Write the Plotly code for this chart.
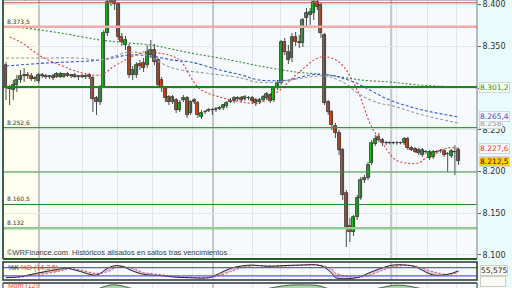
import plotly.graph_objects as go

# ---------------- data (index points) ----------------
idx = list(range(126))
opn = [8327.5, 8300.0, 8297.6, 8303.6, 8309.6, 8314.4, 8315.6, 8314.4, 8310.8, 8308.4,
       8315.6, 8314.4, 8313.2, 8314.4, 8313.2, 8316.8, 8313.2, 8316.8, 8314.4, 8315.6,
       8313.2, 8314.4, 8313.2, 8315.6, 8312.0, 8288.0, 8283.2, 8301.2, 8365.9, 8403.0,
       8407.8, 8400.6, 8361.1, 8351.5, 8349.1, 8315.6, 8315.6, 8328.7, 8329.9, 8327.5,
       8339.5, 8345.5, 8333.5, 8309.6, 8300.0, 8289.2, 8283.2, 8285.6, 8273.6, 8285.6,
       8288.0, 8270.1, 8285.6, 8282.0, 8265.3, 8271.3, 8273.6, 8273.6, 8273.6, 8274.8,
       8276.0, 8278.4, 8283.0, 8284.4, 8288.0, 8288.0, 8286.8, 8288.0, 8288.0, 8285.6,
       8283.2, 8285.6, 8288.0, 8291.6, 8285.6, 8300.0, 8306.0, 8355.1, 8343.1, 8335.9,
       8361.1, 8355.1, 8353.9, 8383.8, 8387.4, 8389.8, 8403.0, 8399.4, 8363.5, 8283.2,
       8271.3, 8254.5, 8246.1, 8225.8, 8174.2, 8134.7, 8127.5, 8145.5, 8168.3, 8189.8,
       8192.2, 8210.2, 8232.9, 8241.3, 8237.7, 8234.1, 8234.5, 8234.1, 8233.8, 8234.3,
       8234.1, 8238.9, 8228.2, 8227.0, 8225.8, 8219.8, 8223.4, 8216.2, 8217.4, 8223.4,
       8224.6, 8224.6, 8221.0, 8218.6, 8223.4, 8225.8]
hig = [8331.1, 8303.6, 8309.6, 8315.6, 8321.6, 8324.0, 8319.2, 8318.0, 8314.4, 8318.0,
       8318.0, 8316.8, 8315.6, 8316.8, 8319.2, 8319.2, 8318.0, 8319.2, 8316.8, 8318.0,
       8315.6, 8316.8, 8316.8, 8318.0, 8314.4, 8290.4, 8303.6, 8369.5, 8411.4, 8412.6,
       8412.6, 8403.0, 8365.9, 8362.3, 8352.7, 8326.3, 8331.1, 8333.5, 8335.9, 8351.5,
       8357.5, 8352.7, 8335.9, 8313.2, 8302.4, 8291.6, 8291.6, 8288.0, 8285.6, 8291.6,
       8290.4, 8285.6, 8288.0, 8284.4, 8273.6, 8273.6, 8276.0, 8276.0, 8277.2, 8278.4,
       8280.8, 8284.4, 8288.0, 8290.4, 8290.4, 8290.4, 8291.6, 8290.4, 8290.4, 8288.0,
       8288.0, 8291.6, 8295.2, 8294.0, 8302.4, 8309.6, 8357.5, 8359.9, 8351.5, 8365.9,
       8367.1, 8363.5, 8383.8, 8395.8, 8395.8, 8405.4, 8405.4, 8401.8, 8365.9, 8285.6,
       8273.6, 8258.1, 8249.7, 8228.2, 8177.8, 8144.3, 8147.9, 8171.9, 8193.4, 8195.8,
       8211.4, 8237.7, 8243.7, 8246.1, 8240.1, 8236.5, 8236.0, 8236.0, 8236.5, 8236.0,
       8241.3, 8241.3, 8230.5, 8229.3, 8228.2, 8228.2, 8225.8, 8225.8, 8225.8, 8225.8,
       8227.0, 8227.0, 8223.4, 8227.0, 8231.7, 8228.2]
low = [8285.6, 8279.6, 8285.6, 8295.2, 8306.0, 8307.2, 8310.8, 8308.4, 8307.2, 8306.0,
       8312.0, 8310.8, 8310.8, 8309.6, 8312.0, 8312.0, 8312.0, 8313.2, 8312.0, 8312.0,
       8309.6, 8312.0, 8310.8, 8310.8, 8271.3, 8267.7, 8279.6, 8300.0, 8362.3, 8398.2,
       8393.4, 8357.5, 8350.3, 8345.5, 8312.0, 8309.6, 8312.0, 8321.6, 8319.2, 8324.0,
       8335.9, 8327.5, 8300.0, 8295.2, 8283.2, 8279.6, 8280.8, 8270.1, 8271.3, 8283.2,
       8264.1, 8267.7, 8280.8, 8264.1, 8262.9, 8268.9, 8271.3, 8267.7, 8271.3, 8273.6,
       8273.6, 8276.0, 8282.0, 8282.0, 8284.4, 8283.2, 8284.4, 8285.6, 8282.0, 8278.4,
       8280.8, 8283.2, 8285.6, 8282.0, 8283.2, 8297.6, 8303.6, 8339.5, 8328.7, 8331.1,
       8350.3, 8347.9, 8349.1, 8371.9, 8375.5, 8381.4, 8393.4, 8359.9, 8279.6, 8267.7,
       8249.7, 8240.1, 8219.8, 8165.9, 8109.6, 8115.6, 8122.8, 8141.9, 8165.9, 8186.2,
       8189.8, 8207.8, 8230.5, 8235.3, 8230.5, 8231.7, 8232.5, 8232.5, 8232.0, 8232.5,
       8231.7, 8225.8, 8224.6, 8222.2, 8219.8, 8217.4, 8221.0, 8213.8, 8215.0, 8221.0,
       8222.2, 8217.4, 8199.4, 8216.2, 8195.8, 8207.8]
cls = [8300.0, 8298.8, 8303.6, 8309.6, 8314.4, 8315.6, 8314.4, 8310.8, 8312.0, 8315.6,
       8314.4, 8313.2, 8314.4, 8312.0, 8316.8, 8313.2, 8316.8, 8314.4, 8315.6, 8313.2,
       8314.4, 8313.2, 8314.4, 8313.2, 8286.8, 8283.2, 8301.2, 8365.9, 8403.0, 8407.8,
       8400.6, 8361.1, 8355.1, 8357.5, 8315.6, 8321.6, 8327.5, 8326.3, 8324.0, 8343.1,
       8345.5, 8331.1, 8303.6, 8300.0, 8288.0, 8283.2, 8289.2, 8273.6, 8282.0, 8288.0,
       8267.7, 8283.2, 8283.2, 8267.7, 8270.1, 8271.0, 8272.5, 8273.4, 8274.8, 8276.0,
       8279.6, 8282.0, 8285.0, 8288.0, 8286.8, 8285.6, 8289.2, 8287.6, 8284.4, 8282.0,
       8285.6, 8289.2, 8292.8, 8284.4, 8300.0, 8306.0, 8355.1, 8343.1, 8333.5, 8361.1,
       8355.1, 8353.9, 8381.4, 8389.8, 8391.0, 8403.0, 8397.0, 8365.9, 8282.0, 8271.3,
       8255.7, 8246.1, 8225.8, 8171.9, 8133.5, 8127.5, 8145.5, 8168.3, 8189.8, 8192.2,
       8207.8, 8234.1, 8238.9, 8237.7, 8234.1, 8234.5, 8234.1, 8233.8, 8234.3, 8234.0,
       8238.9, 8228.2, 8225.8, 8223.4, 8222.2, 8225.8, 8223.8, 8223.4, 8223.4, 8223.0,
       8225.0, 8219.8, 8221.4, 8224.6, 8223.8, 8212.5]

# moving averages (read at sample sessions)
ma_red_idx = [1, 4, 10, 15, 20, 26, 30, 34, 38, 42, 45, 48, 51, 53, 55, 59, 62, 67, 70, 75,
              81, 87, 92, 97, 101, 104, 107, 109, 114, 116, 122, 125]
ma_red_val = [8361.1, 8355.1, 8337.1, 8327.5, 8319.2, 8315.6, 8326.4, 8335.9, 8343.1, 8341.9,
              8339.5, 8333.5, 8313.2, 8301.2, 8295.2, 8289.2, 8285.6, 8282.0, 8282.0, 8295.2,
              8319.2, 8337.1, 8331.1, 8297.6, 8253.3, 8234.1, 8216.2, 8211.4, 8210.2, 8216.2,
              8228.2, 8227.6]
ma_gray_idx = [0, 10, 20, 26, 30, 34, 38, 46, 55, 65, 69, 75, 82, 88, 93, 98, 103, 107, 115, 125]
ma_gray_val = [8335.9, 8335.9, 8335.9, 8333.5, 8338.3, 8343.1, 8340.7, 8323.9, 8318.0, 8312.0,
               8307.2, 8307.2, 8312.0, 8314.4, 8307.2, 8291.6, 8282.0, 8278.5, 8267.7, 8258.0]
ma_blue_idx = [0, 11, 26, 34, 40, 46, 51, 59, 65, 70, 78, 84, 89, 96, 106, 115, 125]
ma_blue_val = [8326.4, 8329.9, 8333.5, 8339.5, 8338.3, 8333.5, 8331.1, 8321.6, 8315.6, 8309.6,
               8309.6, 8315.6, 8315.6, 8307.2, 8285.6, 8273.7, 8265.4]
ma_green_idx = [0, 5, 15, 26, 34, 40, 51, 62, 70, 80, 89, 98, 106, 114, 125]
ma_green_val = [8373.1, 8371.9, 8365.9, 8357.5, 8353.9, 8351.5, 8341.9, 8333.5, 8326.4, 8319.2,
                8315.6, 8309.6, 8307.2, 8303.6, 8301.2]

# horizontal levels
levels = [8402.1, 8373.5, 8301.2, 8252.6, 8199.4, 8160.5, 8132.0]
level_text = ["8.402,1", "8.373,5", "", "8.252,6", "", "8.160,5", "8.132"]

# stochastic %K %D (14,3,5)
st_idx = [0, 4, 7, 15, 17, 20, 25, 28, 30, 32, 35, 38, 43, 46, 50, 56, 58, 62, 65, 68, 72, 76,
          81, 87, 90, 91, 97, 100, 103, 107, 112, 114, 118, 122, 125]
st_k = [7, 14, 31, 69, 74, 55, 26, 74, 93, 89, 55, 31, 21, 12, 7, 7, 26, 74, 91, 98, 89, 93,
        98, 93, 38, 7, 7, 38, 69, 98, 93, 74, 26, 31, 55.575]
st_d = [8, 10, 22, 55, 70, 65, 38, 50, 75, 88, 75, 45, 28, 18, 10, 7, 15, 50, 78, 92, 92, 90,
        95, 96, 70, 40, 10, 20, 50, 85, 95, 85, 50, 30, 45]

# momentum (12)
mom_idx = [0, 20, 25, 27, 29, 31, 33, 35, 45, 60, 70, 74, 78, 82, 86, 88, 90, 95, 100, 104,
           107, 110, 113, 116, 125]
mom_val = [20, 10, 30, 70, 100, 95, 70, 40, 0, 10, 20, 60, 95, 100, 90, 60, 20, -50, 10, 60,
           92, 90, 60, 30, 20]

grid_idx = [21, 30.7, 40.6, 51.4, 68, 75.7, 84, 95, 108, 116.3, 124.3]
month_idx = [9.1, 57.2, 106.4]

# ---------------- figure ----------------
FONT = "DejaVu Sans"
fig = go.Figure()

# wicks
wx, wy = [], []
for i, h, l in zip(idx, hig, low):
    wx += [i, i, None]
    wy += [l, h, None]
fig.add_trace(go.Scatter(x=wx, y=wy, mode="lines", line=dict(color="#4a4a4a", width=1),
                         hoverinfo="skip", showlegend=False))

# moving averages
for xs, ys, col, dash in [(ma_green_idx, ma_green_val, "#2e8b2e", "2px,2px"),
                          (ma_blue_idx, ma_blue_val, "#3355dd", "3px,2px"),
                          (ma_gray_idx, ma_gray_val, "#9a9a9a", "3px,2px"),
                          (ma_red_idx, ma_red_val, "#e03a3a", "2px,2px")]:
    fig.add_trace(go.Scatter(x=xs, y=ys, mode="lines", line=dict(color=col, width=1.1, dash=dash),
                             line_shape="spline", hoverinfo="skip", showlegend=False))

# bodies
base = [min(o, c) for o, c in zip(opn, cls)]
hgt = [max(abs(c - o), 0.5) for o, c in zip(opn, cls)]
cols = ["#16d216" if c >= o else "#f24a16" for o, c in zip(opn, cls)]
fig.add_trace(go.Bar(x=idx, y=hgt, base=base, width=0.82, marker=dict(color=cols, line=dict(color="#262626", width=0.8)),
                     hoverinfo="skip", showlegend=False))

# stochastic
fig.add_trace(go.Scatter(x=st_idx, y=st_d, xaxis="x2", yaxis="y2", mode="lines",
                         line=dict(color="#e04848", width=1, dash="2px,2px"), line_shape="spline", showlegend=False))
fig.add_trace(go.Scatter(x=st_idx, y=st_k, xaxis="x2", yaxis="y2", mode="lines", fill="tonexty",
                         fillcolor="rgba(200,130,170,0.45)",
                         line=dict(color="#202020", width=1), line_shape="spline", showlegend=False))

# momentum
fig.add_trace(go.Scatter(x=mom_idx, y=mom_val, xaxis="x3", yaxis="y3", mode="lines", fill="tozeroy",
                         fillcolor="#a6dca6", line=dict(color="#303030", width=0.8),
                         line_shape="spline", showlegend=False))

shapes = []
# cream first month
for yr in ["y domain", "y2 domain", "y3 domain"]:
    shapes.append(dict(type="rect", xref="x", yref=yr, x0=-0.83, x1=month_idx[0], y0=0, y1=1,
                       fillcolor="#fffff0", line=dict(width=0), layer="below"))
# month separators
for m in month_idx:
    for xr, yr in [("x", "y domain"), ("x2", "y2 domain"), ("x3", "y3 domain")]:
        shapes.append(dict(type="line", xref=xr, yref=yr, x0=m, x1=m, y0=0, y1=1,
                           line=dict(color="#c4c4c4", width=2), layer="below"))
# levels
lvl_style = [("#d24a4a", 1.2), ("#f2aaaa", 2.5), ("#18881a", 2), ("#3a9a3a", 1.2),
             ("#3a9a3a", 1.2), ("#2a8a2a", 1.2), ("#92cc92", 2.5)]
for v, (c, w) in zip(levels, lvl_style):
    shapes.append(dict(type="line", xref="x domain", yref="y", x0=0, x1=1, y0=v, y1=v,
                       line=dict(color=c, width=w)))
# stochastic 80/20
for v in [80, 20]:
    shapes.append(dict(type="line", xref="x2 domain", yref="y2", x0=0, x1=1, y0=v, y1=v,
                       line=dict(color="#5a5ae6", width=1.2)))
# panel borders
shapes.append(dict(type="rect", xref="x domain", yref="y domain", x0=0, x1=1, y0=0, y1=1,
                   line=dict(color="#7a7a7a", width=1)))
shapes.append(dict(type="line", xref="x domain", yref="y domain", x0=0, x1=0, y0=0, y1=1,
                   line=dict(color="#2a3a2a", width=1.5)))
shapes.append(dict(type="line", xref="x domain", yref="y domain", x0=0, x1=1, y0=0, y1=0,
                   line=dict(color="#1f5f1f", width=2)))
shapes.append(dict(type="rect", xref="x2 domain", yref="y2 domain", x0=0, x1=1, y0=0, y1=1,
                   line=dict(color="#303030", width=1.5)))
shapes.append(dict(type="line", xref="x3 domain", yref="y3 domain", x0=0, x1=1, y0=1, y1=1,
                   line=dict(color="#303030", width=1.5)))
shapes.append(dict(type="line", xref="x3 domain", yref="y3 domain", x0=0, x1=0, y0=0, y1=1,
                   line=dict(color="#303030", width=1)))
shapes.append(dict(type="line", xref="x3 domain", yref="y3 domain", x0=1, x1=1, y0=0, y1=1,
                   line=dict(color="#303030", width=1)))

ann = []
for v, t in zip(levels, level_text):
    if t:
        ann.append(dict(xref="paper", yref="y", x=0.004, y=v, text=t, showarrow=False,
                        xanchor="left", yanchor="bottom", yshift=0,
                        font=dict(family=FONT, size=6, color="#303030")))
ann.append(dict(xref="paper", yref="paper", x=0.004, y=1 - 252 / 288, text="©WRFinance.com  Históricos alisados en saltos tras vencimientos",
                showarrow=False, xanchor="left", yanchor="middle",
                font=dict(family="Liberation Sans", size=7.5, color="#404040")))
ann.append(dict(xref="paper", yref="paper", x=0.006, y=1 - 267.5 / 288, text="%K <span style='color:#e04848'>%D (14,3,5)</span>",
                showarrow=False, xanchor="left", yanchor="middle",
                font=dict(family="Liberation Sans", size=7, color="#202020")))
ann.append(dict(xref="paper", yref="paper", x=0.006, y=1 - 286 / 288, text="Mom (12)",
                showarrow=False, xanchor="left", yanchor="middle",
                font=dict(family="Liberation Sans", size=7, color="#e04848")))

# right-side value boxes
for v, txt, fc, bg in [(8258.0, "8.258", "#9a9a9a", "#f4f8f8"),
                       (8301.2, "8.301,2", "#1a9a1a", "#f8fff8"),
                       (8265.4, "8.265,4", "#3a4ad0", "#f8faff"),
                       (8227.6, "8.227,6", "#e04040", "#fff8f8"),
                       (8212.5, "8.212,5", "#202020", "#ffd400")]:
    ann.append(dict(xref="paper", yref="y", x=1, y=v, text=txt, showarrow=False, xanchor="left",
                    yanchor="middle", xshift=2, bgcolor=bg, bordercolor="#cfd8d8", borderwidth=1, borderpad=0,
                    font=dict(family=FONT, size=7.5, color=fc)))
ann.append(dict(xref="paper", yref="y2", x=1, y=st_k[-1], text="55,575", showarrow=False, xanchor="left",
                yanchor="middle", xshift=3, bgcolor="#fbfbf6", bordercolor="#cfcfc0", borderwidth=1, borderpad=0,
                font=dict(family=FONT, size=7.5, color="#202020")))
ann.append(dict(xref="paper", yref="paper", x=1, y=1 - 287 / 288, text="\u2007\u2007\u2007\u2007\u2007", showarrow=False,
                xanchor="left", yanchor="bottom", xshift=3, bgcolor="#fbfbf6", bordercolor="#cfcfc0", borderwidth=1,
                borderpad=0, font=dict(family=FONT, size=7.5, color="#202020")))

yt = [8100, 8150, 8200, 8250, 8300, 8350, 8400]
fig.update_layout(
    width=512, height=288, margin=dict(l=3, r=35, t=0, b=0),
    paper_bgcolor="#eafbfb", plot_bgcolor="#f7fafd",
    separators=",.", bargap=0, showlegend=False,
    xaxis=dict(domain=[0, 1], range=[-0.83, 130.1], anchor="y", showticklabels=False,
               tickvals=grid_idx, showgrid=True, gridcolor="#e2e6ea", gridwidth=1, zeroline=False, ticks=""),
    xaxis2=dict(domain=[0, 1], matches="x", anchor="y2", showticklabels=False,
                tickvals=grid_idx, showgrid=True, gridcolor="#e2e6ea", zeroline=False, ticks=""),
    xaxis3=dict(domain=[0, 1], matches="x", anchor="y3", showticklabels=False,
                tickvals=grid_idx, showgrid=True, gridcolor="#e2e6ea", zeroline=False, ticks=""),
    yaxis=dict(domain=[1 - 259 / 288, 1], range=[8095.2, 8405.4], side="right", tickvals=yt,
               tickformat=",.0f", showgrid=True, gridcolor="#e4e6e8", zeroline=False,
               ticks="outside", ticklen=3, tickcolor="#606060",
               tickfont=dict(family=FONT, size=8, color="#303030")),
    yaxis2=dict(domain=[1 - 280 / 288, 1 - 262 / 288], range=[-10, 120], showticklabels=False,
                showgrid=False, zeroline=False),
    yaxis3=dict(domain=[0, 1 - 283 / 288], range=[50, 130], showticklabels=False,
                showgrid=False, zeroline=False),
    shapes=shapes, annotations=ann,
)

fig.write_html("out.html")
